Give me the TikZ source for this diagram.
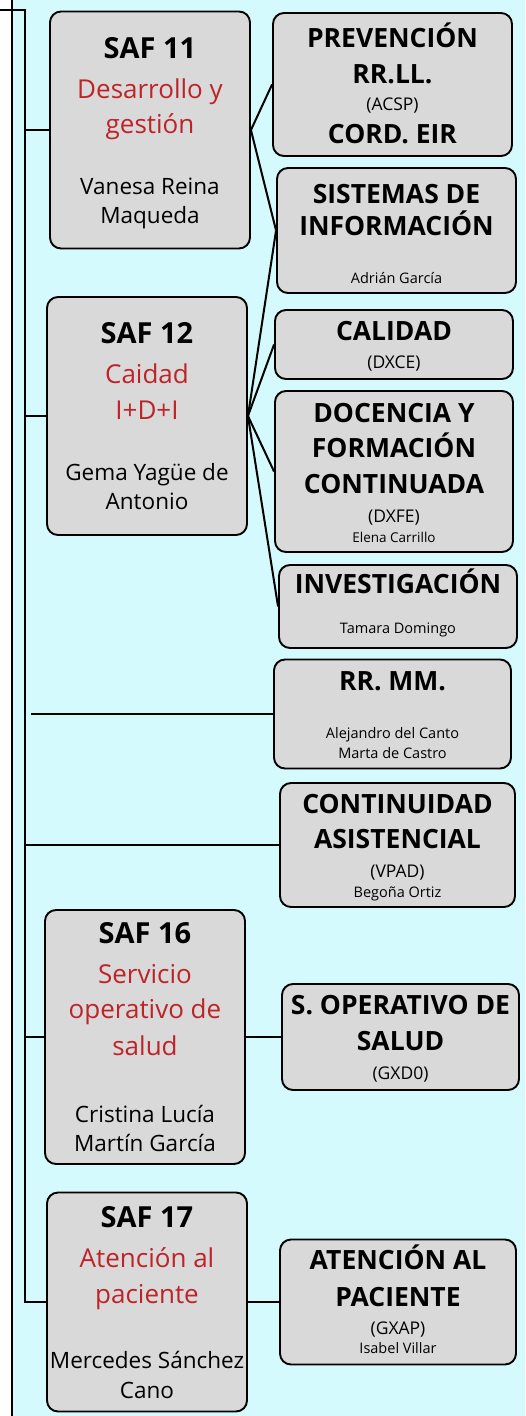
\documentclass[tikz,border=0pt]{standalone}
\usepackage{fontspec}
\setmainfont{Open Sans}
\definecolor{bgc}{HTML}{D4FAFD}
\definecolor{boxc}{HTML}{D9D9D9}
\definecolor{redc}{RGB}{190,35,40}
\begin{document}
\begin{tikzpicture}[x=1pt,y=-1pt,
  box/.style={draw=black, line width=1.9pt, fill=boxc, rounded corners=11pt, inner sep=0pt},
  conn/.style={draw=black, line width=2pt},
  tx/.style={anchor=base, inner sep=0pt},
  saft/.style={tx, font=\fontsize{29}{34}\selectfont\bfseries},
  redt/.style={tx, text=redc, font=\fontsize{26}{30}\selectfont},
  namet/.style={tx, font=\fontsize{22.5}{26}\selectfont},
  titlet/.style={tx, font=\fontsize{26.5}{30}\selectfont\bfseries},
  codet/.style={tx, font=\fontsize{17.5}{21}\selectfont},
  persont/.style={tx, font=\fontsize{14.5}{17}\selectfont}]
\useasboundingbox (0,0) rectangle (525,1416);
\fill[white] (0,0) rectangle (525,1416);
\fill[bgc] (12,0) rectangle (525,1416);
\draw[conn] (12,0) -- (12,1416);

% boxes
\node[box, minimum width=200pt, minimum height=237pt] (saf11) at (150,130) {};
\node[box, minimum width=200pt, minimum height=238pt] (saf12) at (147,416) {};
\node[box, minimum width=239pt, minimum height=143pt] (prev) at (392.5,84.5) {};
\node[box, minimum width=239pt, minimum height=125pt] (sist) at (396.5,230.5) {};
\node[box, minimum width=238pt, minimum height=69pt] (cal) at (394,344.5) {};
\node[box, minimum width=238pt, minimum height=161pt] (doc) at (394,471.5) {};
\node[box, minimum width=238pt, minimum height=83pt] (inv) at (398,606.5) {};
\node[box, minimum width=237pt, minimum height=109pt] (rrmm) at (392.5,714) {};
\node[box, minimum width=235pt, minimum height=124pt] (cont) at (397.5,845) {};
\node[box, minimum width=200pt, minimum height=254pt] (saf16) at (145,1037) {};
\node[box, minimum width=237pt, minimum height=106pt] (sop) at (400.5,1037) {};
\node[box, minimum width=200pt, minimum height=219pt] (saf17) at (147,1302) {};
\node[box, minimum width=236pt, minimum height=125pt] (aten) at (398,1302) {};

% connectors
\coordinate (topl) at (0,10);
\coordinate (trunk) at (25,10);
\coordinate (rrstart) at (31,714);
\draw[conn] (topl) -- (trunk) |- (saf17.west);
\draw[conn] (trunk |- saf11.west) -- (saf11.west);
\draw[conn] (trunk |- saf12.west) -- (saf12.west);
\draw[conn] (rrstart) -- (rrmm.west);
\draw[conn] (trunk |- cont.west) -- (cont.west);
\draw[conn] (trunk |- saf16.west) -- (saf16.west);
\draw[conn] (saf11.east) -- (prev.west);
\draw[conn] (saf11.east) -- (sist.west);
\draw[conn] (saf12.east) -- (sist.west);
\draw[conn] (saf12.east) -- (cal.west);
\draw[conn] (saf12.east) -- (doc.west);
\draw[conn] (saf12.east) -- (inv.west);
\draw[conn] (saf16.east) -- (sop.west);
\draw[conn] (saf17.east) -- (aten.west);

% SAF 11
\node[saft] (s11a) at (150,58) {SAF 11};
\node[redt] (s11b) at (150,98) {Desarrollo y};
\node[redt] (s11c) at (150,133) {gestión};
\node[namet] (s11d) at (150,194) {Vanesa Reina};
\node[namet] (s11e) at (150,223) {Maqueda};
% SAF 12
\node[saft] (s12a) at (147,343) {SAF 12};
\node[redt] (s12b) at (147,383) {Caidad};
\node[redt] (s12c) at (147,419) {I+D+I};
\node[namet] (s12d) at (147,480) {Gema Yagüe de};
\node[namet] (s12e) at (147,509) {Antonio};
% PREVENCION
\node[titlet] (pra) at (392.5,47) {PREVENCIÓN};
\node[titlet] (prb) at (392.5,83) {RR.LL.};
\node[codet] (prc) at (392.5,110) {(ACSP)};
\node[titlet] (prd) at (392.5,143) {CORD. EIR};
% SISTEMAS
\node[titlet] (sia) at (396.5,203) {SISTEMAS DE};
\node[titlet] (sib) at (396.5,235) {INFORMACIÓN};
\node[persont] (sic) at (396.5,283) {Adrián García};
% CALIDAD
\node[titlet] (caa) at (394,340) {CALIDAD};
\node[codet] (cab) at (394,368) {(DXCE)};
% DOCENCIA
\node[titlet] (doa) at (394,422) {DOCENCIA Y};
\node[titlet] (dob) at (394,457) {FORMACIÓN};
\node[titlet] (doc1) at (394,493) {CONTINUADA};
\node[codet] (dod) at (394,522) {(DXFE)};
\node[persont, font=\fontsize{13.5}{16}\selectfont] (doe) at (394,542) {Elena Carrillo};
% INVESTIGACION
\node[titlet] (ina) at (398,593) {INVESTIGACIÓN};
\node[persont] (inb) at (398,633) {Tamara Domingo};
% RR MM
\node[titlet] (rra) at (392.5,690) {RR. MM.};
\node[persont] (rrb) at (392.5,738) {Alejandro del Canto};
\node[persont] (rrc) at (392.5,758) {Marta de Castro};
% CONTINUIDAD
\node[titlet] (coa) at (397.5,813) {CONTINUIDAD};
\node[titlet] (cob) at (397.5,848) {ASISTENCIAL};
\node[codet] (coc) at (397.5,877) {(VPAD)};
\node[persont] (cod) at (397.5,897) {Begoña Ortiz};
% SAF 16
\node[saft] (s16a) at (145,943) {SAF 16};
\node[redt] (s16b) at (145,983) {Servicio};
\node[redt] (s16c) at (145,1018) {operativo de};
\node[redt] (s16d) at (145,1055) {salud};
\node[namet] (s16e) at (145,1122) {Cristina Lucía};
\node[namet] (s16f) at (145,1151) {Martín García};
% S. OPERATIVO
\node[titlet] (spa) at (400.5,1014) {S. OPERATIVO DE};
\node[titlet] (spb) at (400.5,1050) {SALUD};
\node[codet] (spc) at (400.5,1079) {(GXD0)};
% SAF 17
\node[saft] (s17a) at (147,1227) {SAF 17};
\node[redt] (s17b) at (147,1267) {Atención al};
\node[redt] (s17c) at (147,1303) {paciente};
\node[namet] (s17d) at (147,1368) {Mercedes Sánchez};
\node[namet] (s17e) at (147,1398) {Cano};
% ATENCION
\node[titlet] (ata) at (398,1269) {ATENCIÓN AL};
\node[titlet] (atb) at (398,1306) {PACIENTE};
\node[codet] (atc) at (398,1334) {(GXAP)};
\node[persont] (atd) at (398,1353) {Isabel Villar};
\end{tikzpicture}
\end{document}
